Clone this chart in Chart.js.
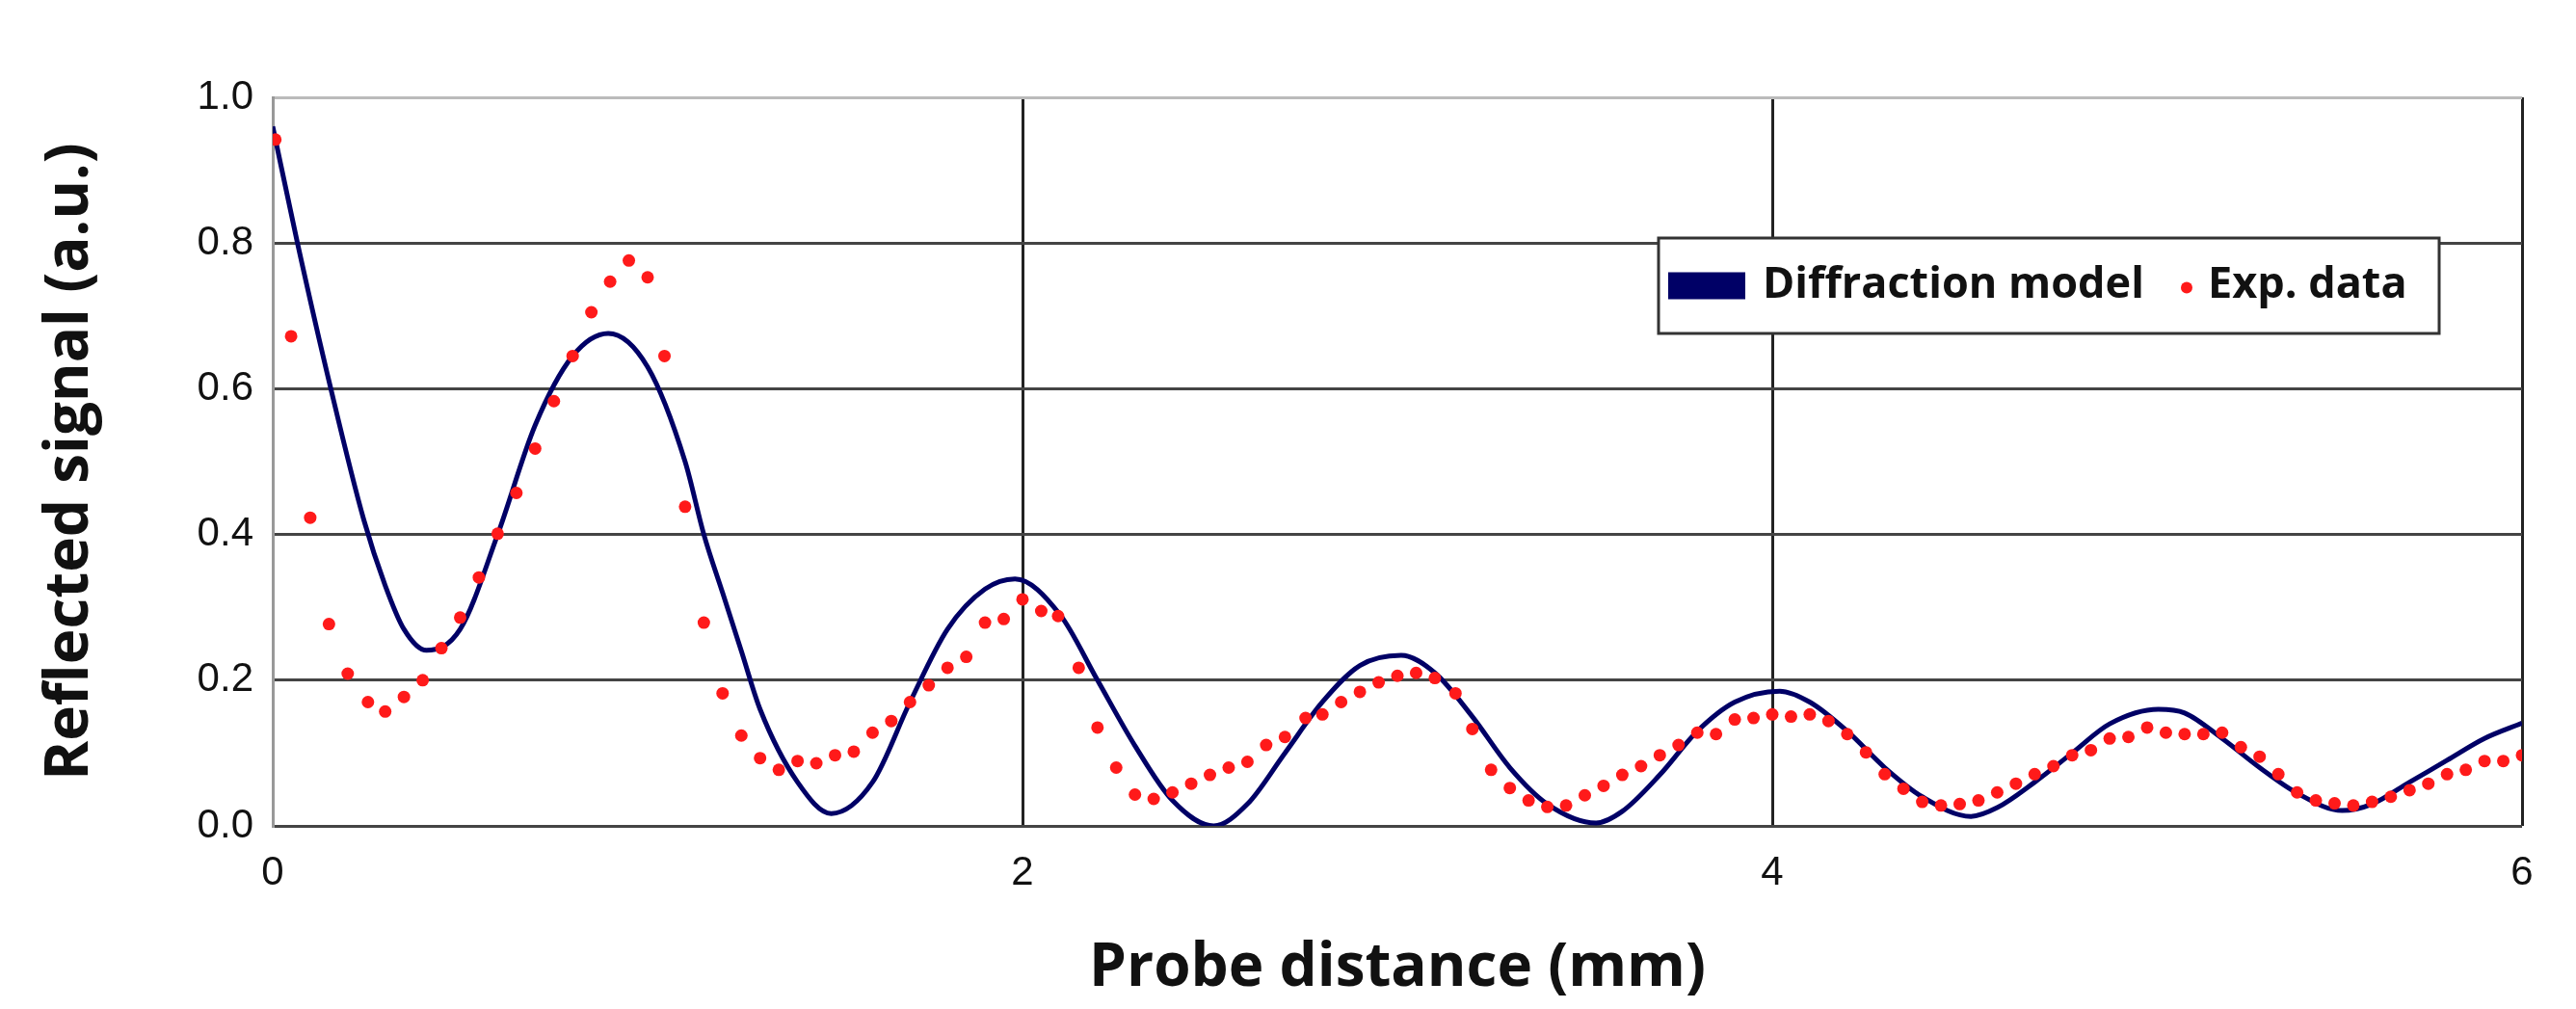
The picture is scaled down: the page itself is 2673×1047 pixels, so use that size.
<!DOCTYPE html>
<html><head><meta charset="utf-8">
<script src="https://cdn.jsdelivr.net/npm/chart.js@4"></script>
<style>html,body{margin:0;padding:0;background:#fff}#w{width:2673px;height:1047px}</style>
</head><body><div id="w"><canvas id="c"></canvas></div>
<script>
const modelX=[0,0.066,0.155,0.243,0.3,0.35,0.41,0.5,0.6,0.7,0.8,0.895,1.0,1.1,1.15,1.2,1.25,1.3,1.4,1.49,1.6,1.7,1.8,1.9,1.98,2.1,2.2,2.3,2.4,2.51,2.6,2.7,2.8,2.9,3.01,3.1,3.2,3.3,3.4,3.53,3.6,3.7,3.8,3.9,4.02,4.1,4.2,4.3,4.4,4.53,4.6,4.7,4.8,4.9,5.03,5.1,5.2,5.3,5.4,5.52,5.6,5.7,5.8,5.9,6.0];
const modelY=[0.96,0.8,0.6,0.42,0.33,0.27,0.241,0.27,0.40,0.55,0.645,0.676,0.63,0.50,0.40,0.32,0.24,0.16,0.06,0.017,0.06,0.17,0.27,0.325,0.339,0.29,0.20,0.11,0.035,0.0,0.03,0.10,0.17,0.22,0.234,0.21,0.15,0.08,0.03,0.004,0.02,0.07,0.13,0.17,0.185,0.17,0.13,0.08,0.04,0.013,0.025,0.06,0.10,0.14,0.16,0.155,0.12,0.08,0.045,0.021,0.03,0.06,0.09,0.12,0.141];
const expX=[0.007,0.049,0.10,0.15,0.20,0.254,0.30,0.35,0.40,0.45,0.50,0.55,0.60,0.65,0.70,0.75,0.80,0.85,0.90,0.95,1.00,1.045,1.10,1.15,1.20,1.25,1.30,1.35,1.40,1.45,1.50,1.55,1.60,1.65,1.70,1.75,1.80,1.85,1.90,1.95,2.00,2.05,2.095,2.15,2.20,2.25,2.30,2.35,2.40,2.45,2.50,2.55,2.60,2.65,2.70,2.755,2.80,2.85,2.90,2.95,3.00,3.05,3.10,3.155,3.20,3.25,3.30,3.35,3.40,3.45,3.50,3.55,3.60,3.65,3.70,3.75,3.80,3.85,3.90,3.95,4.00,4.05,4.10,4.15,4.20,4.25,4.30,4.35,4.40,4.45,4.50,4.55,4.60,4.65,4.70,4.75,4.80,4.85,4.90,4.95,5.00,5.05,5.10,5.15,5.20,5.25,5.30,5.35,5.40,5.45,5.50,5.55,5.60,5.65,5.70,5.75,5.80,5.85,5.90,5.95,6.00];
const expY=[0.942,0.672,0.423,0.277,0.209,0.170,0.157,0.177,0.200,0.244,0.286,0.341,0.401,0.457,0.518,0.583,0.645,0.705,0.747,0.776,0.753,0.645,0.438,0.279,0.182,0.124,0.093,0.077,0.089,0.086,0.097,0.102,0.128,0.144,0.170,0.193,0.217,0.232,0.279,0.284,0.311,0.295,0.288,0.217,0.135,0.080,0.043,0.037,0.046,0.058,0.070,0.080,0.088,0.111,0.122,0.148,0.153,0.170,0.184,0.197,0.206,0.210,0.203,0.182,0.133,0.077,0.052,0.035,0.026,0.028,0.042,0.055,0.070,0.082,0.097,0.111,0.128,0.126,0.146,0.148,0.153,0.150,0.153,0.144,0.126,0.101,0.071,0.051,0.033,0.028,0.030,0.035,0.046,0.058,0.071,0.082,0.097,0.104,0.120,0.122,0.135,0.128,0.126,0.126,0.128,0.108,0.095,0.071,0.046,0.035,0.031,0.028,0.033,0.040,0.049,0.058,0.071,0.077,0.089,0.089,0.097];
const xTicks=[0,2,4,6];
const yTicks=[0,0.2,0.4,0.6,0.8,1.0];

const legendPlugin={id:'lg',afterDraw(ch){
  const c=ch.ctx;
  const x0=1721,y0=247,w=810,h=99;
  c.save();c.fillStyle='#fff';c.fillRect(x0,y0,w,h);
  c.strokeStyle='#333';c.lineWidth=3;c.strokeRect(x0,y0,w,h);
  const cy=y0+h/2;
  c.fillStyle='#000066';c.fillRect(x0+10,cy-14,80,28);
  c.font='bold 45px "Open Sans"';c.fillStyle='#111';c.textBaseline='middle';
  c.fillText(ch.data.datasets[0].label,x0+108,cy);
  c.fillStyle='#ff1a1a';c.beginPath();c.arc(x0+548,cy+2,6,0,Math.PI*2);c.fill();
  c.fillStyle='#111';c.fillText(ch.data.datasets[1].label,x0+570,cy);
  c.restore();
}};

new Chart(document.getElementById('c'),{
  type:'scatter',
  data:{datasets:[
    {label:'Diffraction model',data:modelX.map((x,i)=>({x,y:modelY[i]})),showLine:true,borderColor:'#000066',borderWidth:5,pointRadius:0,cubicInterpolationMode:'monotone',order:2},
    {label:'Exp. data',data:expX.map((x,i)=>({x,y:expY[i]})),backgroundColor:'#ff1a1a',borderWidth:0,pointRadius:6.5,order:1}
  ]},
  plugins:[legendPlugin],
  options:{responsive:true,maintainAspectRatio:false,animation:false,devicePixelRatio:1,
    layout:{padding:{top:101,right:56,left:0,bottom:0}},
    plugins:{legend:{display:false},tooltip:{enabled:false}},
    scales:{
      x:{type:'linear',min:0,max:6,
        afterBuildTicks(s){s.ticks=xTicks.map(v=>({value:v}));},
        afterFit(s){s.height=190;},
        afterUpdate(s){s.right=2617;s.width=s.right-s.left;},
        grid:{color:'#222',lineWidth:3,drawTicks:false},border:{display:false},
        ticks:{font:{size:42,family:'"Liberation Sans"'},color:'#111',padding:24,callback:v=>String(v)},
        title:{display:true,text:'Probe distance (mm)',font:{size:62,weight:'bold',family:'"Open Sans"'},color:'#111',padding:{top:-40}}
      },
      y:{min:0,max:1,
        afterBuildTicks(s){s.ticks=yTicks.map(v=>({value:v}));},
        afterFit(s){s.width=283;},
        grid:{color:c=>c.tick&&c.tick.value===1?'#bbb':'#444',lineWidth:3,drawTicks:false},border:{color:'#999',width:3},
        ticks:{font:{size:42,family:'"Liberation Sans"'},color:'#111',padding:20,callback:v=>v.toFixed(1)},
        title:{display:true,text:'Reflected signal (a.u.)',font:{size:62,weight:'bold',family:'"Open Sans"'},color:'#111',padding:{top:36,bottom:0}}
      }
    }
  }
});
</script></body></html>
